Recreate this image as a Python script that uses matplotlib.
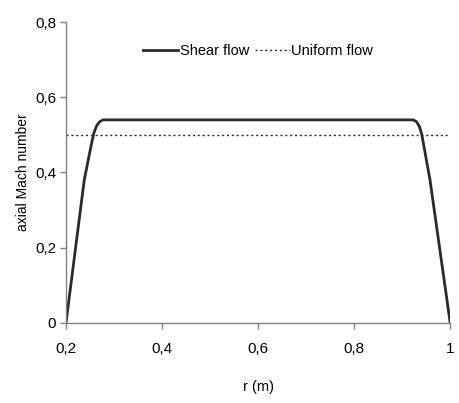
import matplotlib
matplotlib.use("Agg")
import matplotlib.pyplot as plt
from matplotlib.ticker import FuncFormatter

plt.rcParams['font.family'] = ['Liberation Sans', 'DejaVu Sans']

# shear flow profile
r_shear = [0.2, 0.238, 0.252, 0.258, 0.264, 0.270, 0.277, 0.30, 0.5, 0.7, 0.90,
           0.923, 0.930, 0.936, 0.941, 0.958, 1.0]
m_shear = [0.0, 0.38, 0.47, 0.505, 0.525, 0.535, 0.540, 0.54, 0.54, 0.54, 0.54,
           0.540, 0.535, 0.522, 0.50, 0.38, 0.0]

# uniform flow
r_unif = [0.2, 1.0]
m_unif = [0.5, 0.5]

fig = plt.figure(figsize=(4.59, 4.03), dpi=100)
ax = fig.add_axes([0.1438, 0.199, 0.837, 0.746])

ax.plot(r_shear, m_shear, color="#2a2a2a", lw=2.0, label="Shear flow")
ax.plot(r_unif, m_unif, color="#2a2a2a", lw=1.0, ls=(0, (1.5, 2)), label="Uniform flow")

ax.set_xlim(0.2, 1.0)
ax.set_ylim(0, 0.8)
ax.set_xticks([0.2, 0.4, 0.6, 0.8, 1.0])
ax.set_yticks([0, 0.2, 0.4, 0.6, 0.8])
fmt = FuncFormatter(lambda v, p: ("%g" % round(v, 2)).replace(".", ","))
ax.xaxis.set_major_formatter(fmt)
ax.yaxis.set_major_formatter(fmt)

for s in ["top", "right"]:
    ax.spines[s].set_visible(False)
for s in ["left", "bottom"]:
    ax.spines[s].set_color("#808080")
    ax.spines[s].set_linewidth(1.0)
ax.tick_params(axis="both", colors="#808080", length=4, width=1, labelsize=11, labelcolor="black")
ax.tick_params(axis="x", pad=10)
ax.tick_params(axis="y", pad=3)

ax.set_xlabel("r (m)", fontsize=10.5, labelpad=17)
ax.set_ylabel("axial Mach number", fontsize=10, labelpad=4)

ax.legend(loc="upper center", bbox_to_anchor=(0.5, 0.97), ncol=2, frameon=False,
          fontsize=10.5, handlelength=2.4, handletextpad=0.1, columnspacing=0.4)

fig.savefig("out.png", dpi=100)
